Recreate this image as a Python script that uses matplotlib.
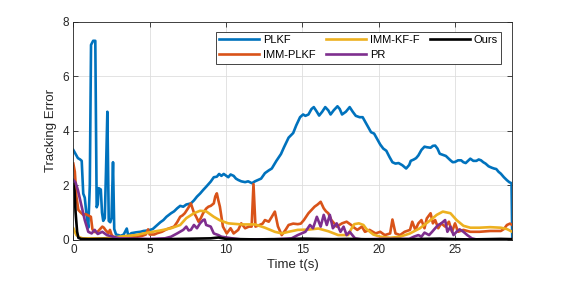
import matplotlib
matplotlib.use("Agg")
import matplotlib.pyplot as plt

plt.rcParams["font.family"] = ["Liberation Sans", "DejaVu Sans"]

# ---------------------------------------------------------------------
# data (time in s, tracking error)
# ---------------------------------------------------------------------
t_plkf = [0, 0.15, 0.3, 0.45, 0.55, 0.65, 0.75, 0.85, 0.98, 1.08, 1.16, 1.3, 1.44, 1.53,
          1.6, 1.66, 1.8, 1.88, 1.96, 2.06, 2.14, 2.23, 2.32, 2.42, 2.5, 2.6, 2.68, 2.8,
          2.95, 3.1, 3.3, 3.5, 3.6, 3.8, 4.1, 4.4, 4.6, 4.9, 5.2, 5.5, 5.7, 5.9, 6.1, 6.4,
          6.6, 6.8, 7.0, 7.2, 7.4, 7.7, 7.9, 8.1, 8.3, 8.5, 8.7, 9.0, 9.2, 9.4, 9.55, 9.7,
          9.85, 10.0, 10.15, 10.3, 10.5, 10.65, 10.8, 11.0, 11.25, 11.45, 11.7, 11.9, 12.1,
          12.3, 12.55, 12.8, 13.0, 13.3, 13.6, 13.8, 14.1, 14.4, 14.6, 14.85, 15.05, 15.2,
          15.4, 15.6, 15.75, 15.95, 16.1, 16.3, 16.5, 16.7, 16.85, 17.05, 17.3, 17.45, 17.6,
          17.85, 18.1, 18.3, 18.5, 18.75, 18.95, 19.15, 19.3, 19.5, 19.7, 19.9, 20.1, 20.3,
          20.5, 20.7, 20.9, 21.1, 21.3, 21.55, 21.8, 22.0, 22.1, 22.3, 22.45, 22.6, 22.8,
          23.0, 23.15, 23.4, 23.55, 23.7, 23.85, 24.0, 24.2, 24.4, 24.55, 24.7, 24.85, 25.0,
          25.2, 25.4, 25.55, 25.7, 25.85, 26.0, 26.2, 26.4, 26.55, 26.7, 26.85, 27.0, 27.2,
          27.4, 27.55, 27.7, 27.85, 28.0, 28.2, 28.4, 28.55, 28.7, 28.75]
e_plkf = [3.3, 3.15, 3.0, 2.95, 2.9, 1.7, 1.55, 1.0, 0.45, 2.0, 7.15, 7.3, 7.3, 1.2,
          1.3, 1.9, 1.85, 1.0, 0.7, 0.8, 2.5, 4.7, 0.7, 0.65, 0.8, 2.85, 0.4, 0.2,
          0.18, 0.15, 0.2, 0.42, 0.15, 0.25, 0.28, 0.3, 0.33, 0.35, 0.4, 0.55, 0.65, 0.73, 0.85, 0.98,
          1.05, 1.16, 1.25, 1.22, 1.3, 1.34, 1.45, 1.59, 1.7, 1.83, 1.95, 2.14, 2.3, 2.32, 2.42, 2.35,
          2.42, 2.36, 2.3, 2.4, 2.35, 2.25, 2.2, 2.15, 2.12, 2.15, 2.08, 2.15, 2.2,
          2.25, 2.45, 2.55, 2.62, 2.9, 3.15, 3.4, 3.75, 3.92, 4.2, 4.5, 4.6, 4.55,
          4.6, 4.8, 4.87, 4.7, 4.56, 4.7, 4.87, 4.75, 4.6, 4.75, 4.9, 4.8, 4.6,
          4.7, 4.87, 4.7, 4.55, 4.5, 4.5, 4.3, 4.15, 3.95, 3.9, 3.7, 3.5, 3.35,
          3.27, 3.05, 2.85, 2.8, 2.82, 2.74, 2.62, 2.75, 2.9, 2.95, 3.0, 3.1, 3.3,
          3.42, 3.4, 3.38, 3.45, 3.46, 3.35, 3.16, 3.12, 3.08, 3.0, 2.92, 2.85, 2.86,
          2.92, 2.92, 2.85, 2.82, 2.9, 2.98, 2.9, 2.9, 2.95, 2.92, 2.85, 2.8, 2.7,
          2.65, 2.62, 2.6, 2.5, 2.43, 2.3, 2.19, 2.12, 2.08, 0.0]

t_imm = [0, 0.1, 0.2, 0.33, 0.5, 0.65, 0.8, 0.98, 1.15, 1.25, 1.35, 1.56, 1.75, 1.9, 2.0,
         2.1, 2.3, 2.4, 2.5, 2.6, 2.8, 3.0, 3.5, 4.0, 4.5, 4.75, 4.9, 5.0, 5.3, 5.5, 5.8,
         6.1, 6.4, 6.6, 6.8, 7.0, 7.15, 7.3, 7.5, 7.7, 7.9, 8.05, 8.2, 8.35, 8.5, 8.7,
         8.85, 9.0, 9.2, 9.3, 9.4, 9.5, 9.6, 9.8, 10.05, 10.3, 10.5, 10.8, 11.0, 11.25,
         11.5, 11.68, 11.8, 11.93, 12.2, 12.4, 12.55, 12.8, 13.0, 13.2, 13.4, 13.65, 13.9,
         14.1, 14.4, 14.7, 14.9, 15.1, 15.4, 15.6, 15.8, 16.0, 16.2, 16.4, 16.55, 16.7,
         16.9, 17.1, 17.25, 17.6, 17.9, 18.2, 18.4, 18.6, 18.9, 19.1, 19.4, 19.8, 20.1,
         20.4, 20.75, 20.9, 21.1, 21.4, 21.7, 22.05, 22.2, 22.4, 22.6, 22.8, 23.0, 23.15,
         23.4, 23.55, 23.7, 23.9, 24.1, 24.35, 24.6, 24.8, 25.0, 25.2, 25.55, 26.0, 26.6,
         27.3, 28.0, 28.2, 28.4, 28.6, 28.75]
e_imm = [2.8, 2.5, 1.6, 1.1, 1.0, 0.92, 0.95, 0.9, 0.85, 0.4, 0.3, 0.28, 0.4, 0.49, 0.45,
         0.37, 0.25, 0.37, 0.2, 0.12, 0.1, 0.08, 0.08, 0.1, 0.15, 0.2, 0.39, 0.2, 0.2, 0.25, 0.3,
         0.39, 0.45, 0.49, 0.65, 0.85, 0.9, 0.98, 1.15, 1.34, 1.0, 0.85, 0.67, 0.8, 0.98, 1.15,
         1.22, 1.25, 1.34, 1.6, 1.71, 1.45, 1.22, 0.49, 0.24, 0.43, 0.24, 0.37, 0.61, 0.43,
         0.49, 0.49, 2.05, 0.49, 0.55, 0.6, 0.73, 0.67, 0.85, 1.04, 0.5, 0.18, 0.37,
         0.55, 0.6, 0.58, 0.6, 0.73, 0.98, 1.1, 1.22, 1.3, 1.4, 1.16, 1.05, 0.98,
         0.73, 0.6, 0.49, 0.61, 0.67, 0.55, 0.45, 0.37, 0.49, 0.3, 0.37, 0.24, 0.3,
         0.18, 0.24, 0.75, 0.24, 0.18, 0.3, 0.37, 0.67, 0.37, 0.61, 0.73, 0.43, 0.79,
         0.98, 0.61, 0.73, 0.43, 0.61, 0.49, 0.67, 0.3, 0.61, 0.3, 0.37, 0.3, 0.3,
         0.33, 0.33, 0.4, 0.55, 0.6, 0.55]

t_kff = [0, 0.1, 0.2, 0.4, 0.6, 1.0, 2.0, 3.0, 3.5, 4.1, 4.6, 5.2, 5.8, 6.4, 7.0, 7.4, 7.9,
         8.3, 8.7, 9.2, 9.6, 10.15, 11.0, 11.9, 12.55, 13.2, 13.65, 14.1, 14.7, 15.4, 16.05,
         16.7, 17.35, 18.0, 18.2, 18.4, 18.7, 19.0, 19.2, 19.65, 20.1, 20.75, 21.4, 22.05,
         22.7, 23.4, 23.8, 24.2, 24.7, 25.1, 25.55, 26.0, 26.6, 27.3, 28.0, 28.4, 28.75]
e_kff = [0.43, 0.3, 0.18, 0.1, 0.06, 0.06, 0.06, 0.12, 0.15, 0.18, 0.24, 0.3, 0.36, 0.43, 0.55, 0.8, 0.98,
         1.07, 1.05, 0.85, 0.72, 0.61, 0.57, 0.57, 0.45, 0.3, 0.24, 0.3, 0.37, 0.38, 0.42,
         0.32, 0.18, 0.18, 0.4, 0.58, 0.61, 0.55, 0.4, 0.2, 0.12, 0.08, 0.12, 0.24,
         0.43, 0.73, 0.92, 1.04, 0.98, 0.73, 0.52, 0.45, 0.45, 0.47, 0.45, 0.4, 0.3]

t_pr = [0, 0.15, 0.3, 0.5, 0.75, 0.98, 1.2, 1.4, 1.6, 1.9, 2.2, 2.6, 3.0, 4.0, 5.0, 5.5, 6.0,
        6.4, 6.8, 7.2, 7.4, 7.55, 7.7, 7.9, 8.1, 8.3, 8.5, 8.6, 8.7, 9.0, 9.2, 9.5, 9.7,
        10.4, 11.0, 12.0, 13.0, 14.3, 14.7, 15.2, 15.5, 15.7, 15.95, 16.2, 16.4, 16.6,
        16.8, 17.0, 17.25, 17.5, 17.7, 17.9, 18.1, 18.45, 18.9, 20.0, 21.0, 22.0, 22.3,
        22.6, 22.8, 23.0, 23.3, 23.5, 23.7, 23.9, 24.1, 24.35, 24.5, 24.7, 24.9, 25.1,
        25.3, 25.55, 25.8, 26.1, 26.4, 28.75]
e_pr = [2.2, 2.1, 1.83, 1.34, 0.73, 0.3, 0.24, 0.37, 0.22, 0.3, 0.18, 0.12, 0.06, 0.05, 0.04, 0.05, 0.06,
        0.12, 0.24, 0.37, 0.49, 0.35, 0.37, 0.55, 0.43, 0.61, 0.73, 0.75, 0.55, 0.49, 0.24, 0.18, 0.12,
        0.06, 0.02, 0.02, 0.02, 0.06, 0.18, 0.3, 0.55, 0.43, 0.85, 0.49, 0.92, 0.55,
        0.92, 0.43, 0.61, 0.3, 0.49, 0.18, 0.3, 0.06, 0.02, 0.04, 0.04, 0.04, 0.12,
        0.18, 0.12, 0.27, 0.18, 0.3, 0.43, 0.55, 0.61, 0.73, 0.3, 0.49, 0.18, 0.3,
        0.39, 0.3, 0.18, 0.06, 0.02, 0.02]

t_ours = [0, 0.08, 0.15, 0.25, 0.33, 0.5, 1, 2, 3, 4, 5, 6, 7, 8, 9, 9.5, 10, 11, 12, 13,
          14, 15, 16, 17, 18, 19, 20, 21, 22, 23, 24, 25, 26, 27, 28, 28.75]
e_ours = [2.05, 1.8, 1.0, 0.3, 0.08, 0.04, 0.03, 0.04, 0.02, 0.03, 0.02, 0.03, 0.04, 0.05, 0.06, 0.09, 0.04,
          0.03, 0.02, 0.03, 0.03, 0.05, 0.04, 0.03, 0.04, 0.03, 0.02, 0.03, 0.03, 0.04, 0.05, 0.03,
          0.02, 0.03, 0.04, 0.03]

series = [
    ("PLKF", t_plkf, e_plkf, "#0072BD"),
    ("IMM-PLKF", t_imm, e_imm, "#D95319"),
    ("IMM-KF-F", t_kff, e_kff, "#EDB120"),
    ("PR", t_pr, e_pr, "#7E2F8E"),
    ("Ours", t_ours, e_ours, "#000000"),
]

# ---------------------------------------------------------------------
# figure
# ---------------------------------------------------------------------
fig = plt.figure(figsize=(5.67, 2.83), dpi=100)
ax = fig.add_axes([0.1293, 0.152, 0.7742, 0.7713])

for name, t, e, c in series:
    ax.plot(t, e, color=c, lw=1.9, label=name, solid_joinstyle="round")

ax.set_xlim(0, 28.75)
ax.set_ylim(0, 8)
ax.set_xticks([0, 5, 10, 15, 20, 25])
ax.set_yticks([0, 2, 4, 6, 8])
ax.grid(True, color="#dedede", lw=0.6)
ax.set_axisbelow(True)
ax.tick_params(direction="in", length=3.5, width=0.6, top=True, right=True,
               labelsize=8.5, colors="#262626", pad=3)
for s in ax.spines.values():
    s.set_linewidth(0.6)
    s.set_color("#262626")
ax.set_xlabel("Time t(s)", fontsize=9.5, color="#262626", labelpad=2)
ax.set_ylabel("Tracking Error", fontsize=9.5, color="#262626", labelpad=4)

leg = ax.legend(ncol=3, loc="upper right", bbox_to_anchor=(0.974, 0.953), borderaxespad=0,
                fontsize=8, handlelength=3.6, handletextpad=0.35, columnspacing=0.9,
                labelspacing=0.45, borderpad=0.3, fancybox=False, framealpha=1)
leg.get_frame().set_edgecolor("#262626")
leg.get_frame().set_linewidth(0.6)

fig.savefig("out.png", dpi=100)
